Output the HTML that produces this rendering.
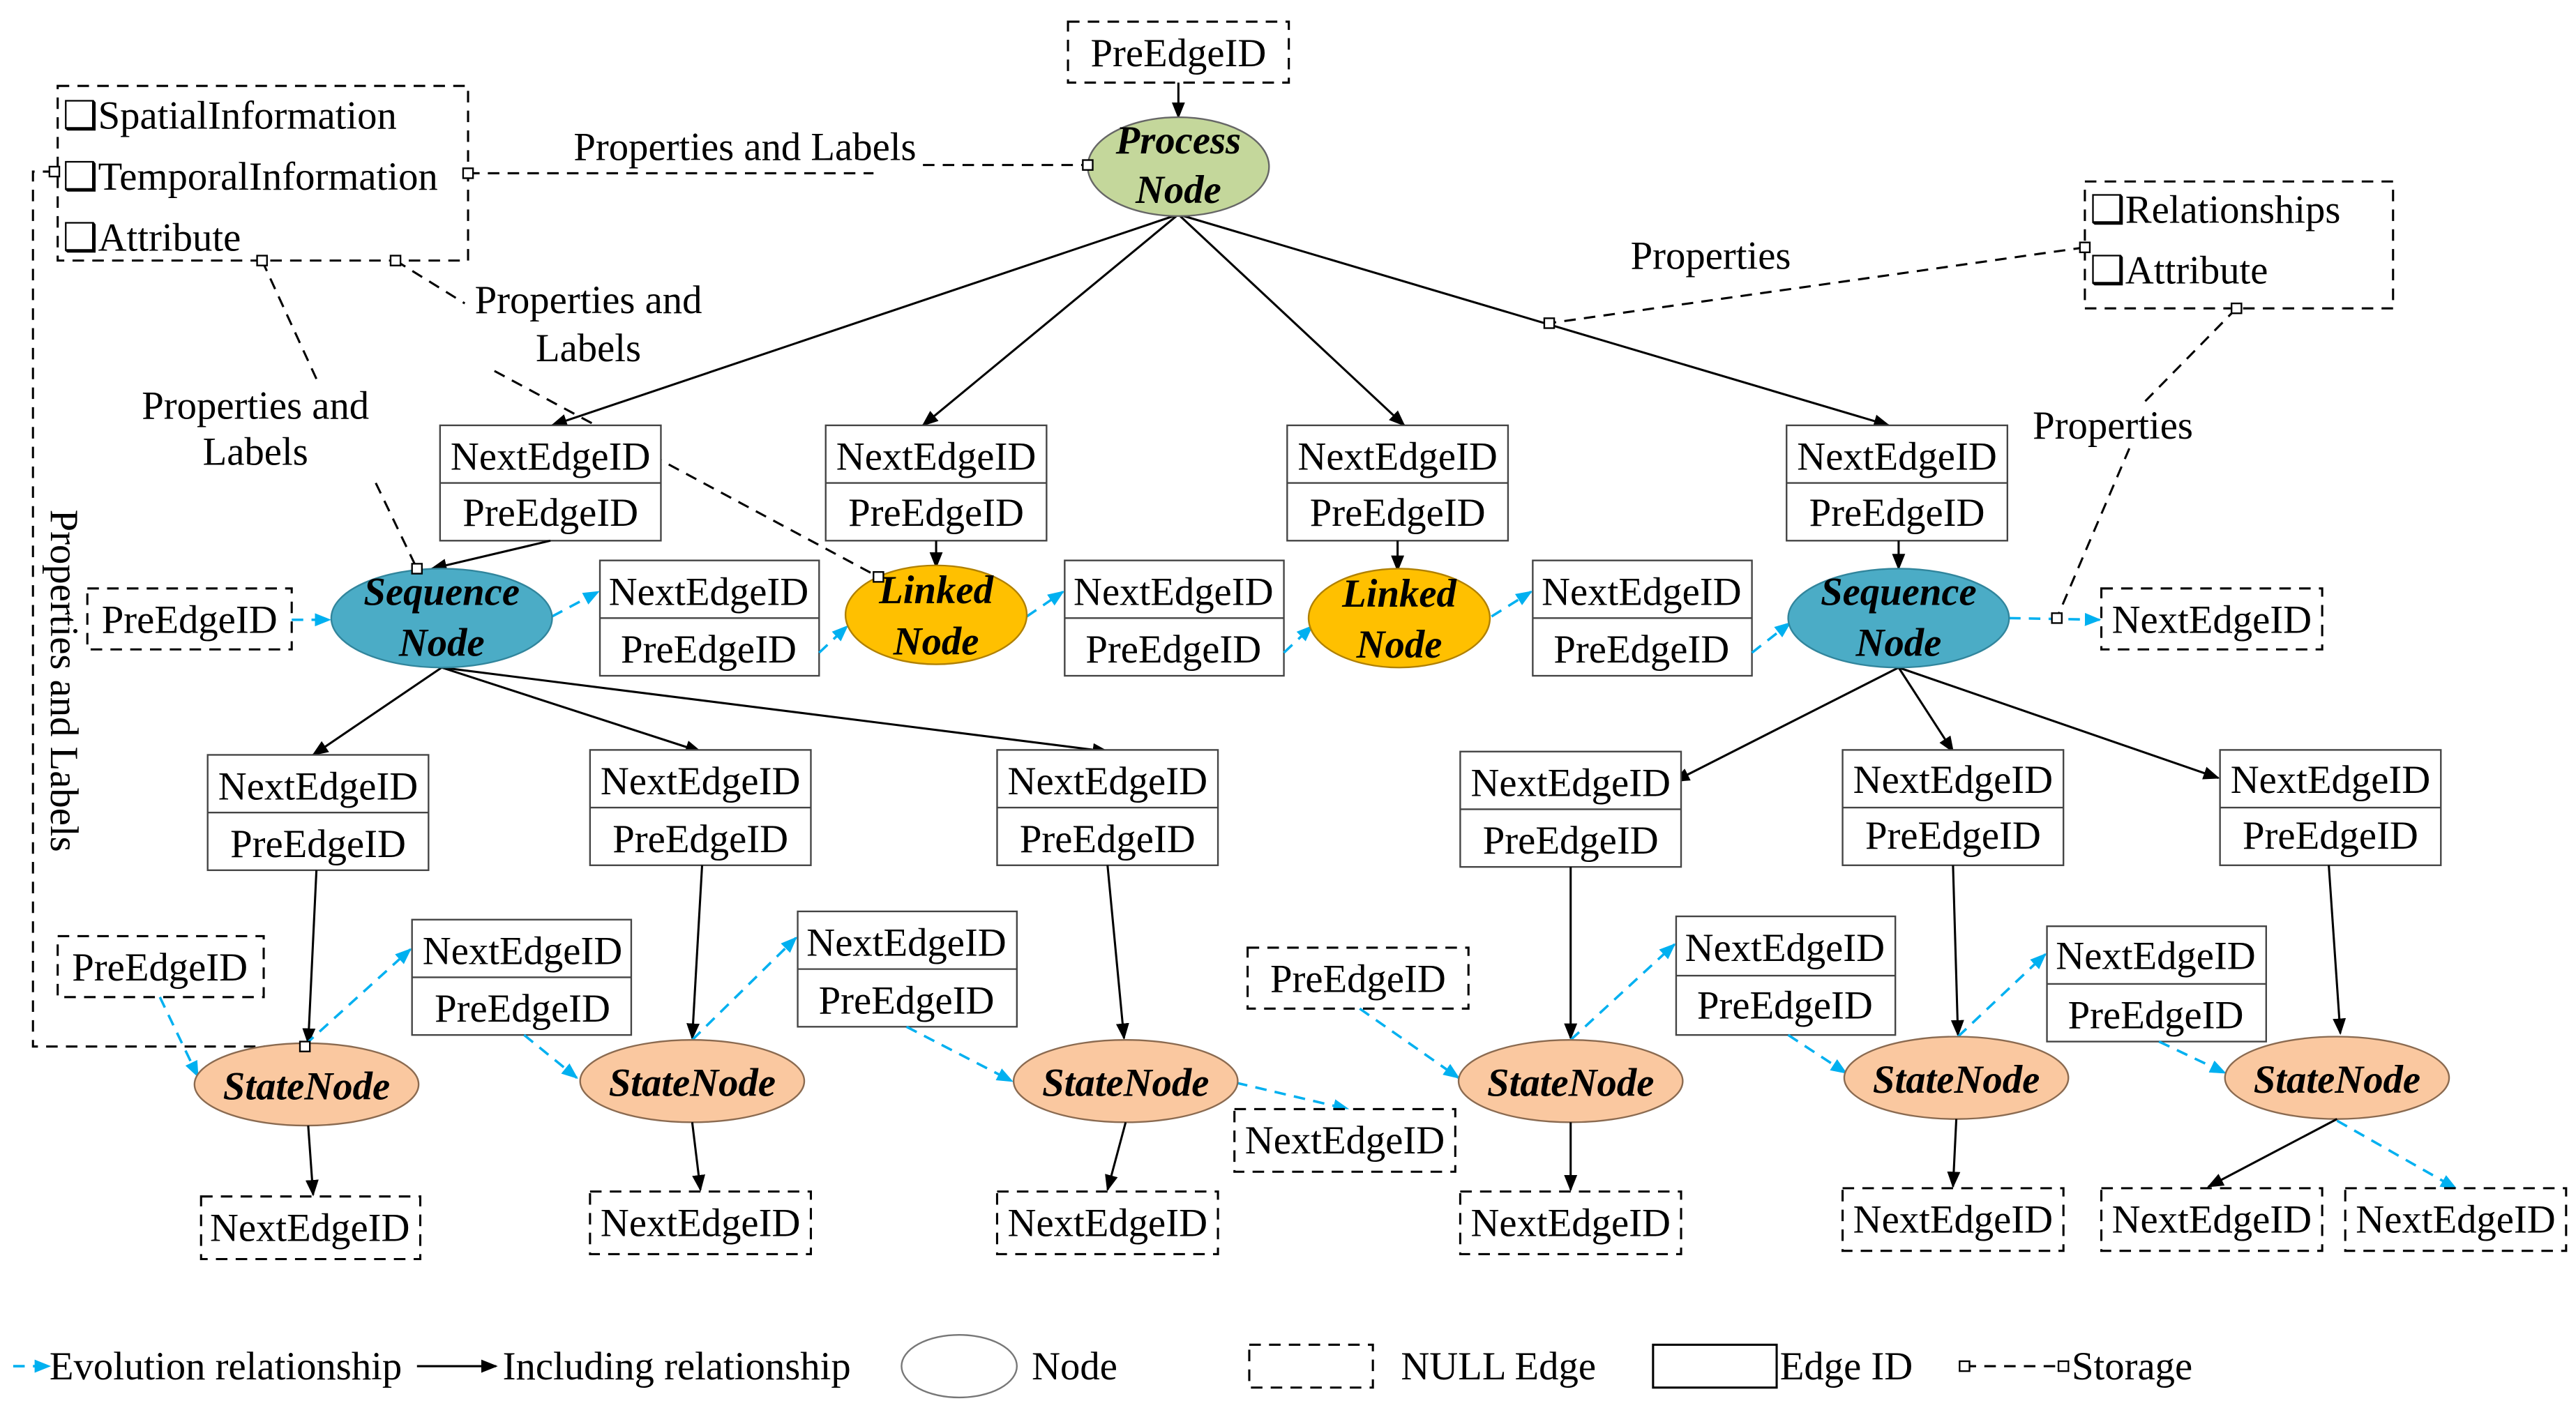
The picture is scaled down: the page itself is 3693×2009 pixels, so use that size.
<!DOCTYPE html>
<html><head><meta charset="utf-8"><style>
html,body{margin:0;padding:0;background:#fff}
svg{display:block}
text{font-family:"Liberation Serif",serif;font-size:24px;fill:#000}
.b{font-weight:bold;font-style:italic}
.s{fill:none;stroke:#000;stroke-width:1.3}
.d{fill:none;stroke:#000;stroke-width:1.3;stroke-dasharray:7,5}
.bl{fill:none;stroke:#00b0f0;stroke-width:1.5;stroke-dasharray:7,5}
.bx{fill:#fff;stroke:#444;stroke-width:1}
.nb{fill:#fff;stroke:#000;stroke-width:1.3;stroke-dasharray:7,5}
.sq{fill:#fff;stroke:#000;stroke-width:1}
</style></head><body>
<svg width="3693" height="2009" viewBox="0 0 1563 850" xmlns="http://www.w3.org/2000/svg">
<defs>
<marker id="a" markerWidth="10" markerHeight="10" refX="9" refY="5" orient="auto" markerUnits="userSpaceOnUse"><path d="M0,1 L10,5 L0,9 Z" fill="#000"/></marker>
<marker id="ab" markerWidth="10" markerHeight="10" refX="9" refY="5" orient="auto" markerUnits="userSpaceOnUse"><path d="M0,1 L10,5 L0,9 Z" fill="#00b0f0"/></marker>
</defs>
<g text-anchor="middle">
<rect class="nb" x="648" y="13" width="134" height="37"/><text x="715" y="40">PreEdgeID</text>
<line class="s" x1="715" y1="50" x2="715" y2="71" marker-end="url(#a)"/>
<line class="s" x1="715" y1="130" x2="335" y2="258" marker-end="url(#a)"/>
<line class="s" x1="715" y1="130" x2="560" y2="258" marker-end="url(#a)"/>
<line class="s" x1="715" y1="130" x2="852" y2="258" marker-end="url(#a)"/>
<line class="s" x1="715" y1="130" x2="1146" y2="258" marker-end="url(#a)"/>
<ellipse cx="715" cy="101" rx="55" ry="30" fill="#c4d79b" stroke="#666"/>
<text class="b" x="715" y="93">Process</text><text class="b" x="715" y="123">Node</text>

<polyline class="d" points="284,105 530,105"/>
<polyline class="d" points="560,100 660,100"/>
<polyline class="d" points="33,104 20,104 20,635 185,635"/>
<line class="d" x1="159" y1="158" x2="193" y2="232"/>
<line class="d" x1="228" y1="293" x2="253" y2="345"/>
<line class="d" x1="240" y1="158" x2="282" y2="184"/>
<line class="d" x1="300" y1="225" x2="533" y2="350"/>
<line class="d" x1="1265" y1="150" x2="940" y2="196"/>
<line class="d" x1="1357" y1="187" x2="1300" y2="245"/>
<line class="d" x1="1292" y1="272" x2="1248" y2="375"/>

<rect class="nb" x="35" y="52" width="249" height="106"/>
<text x="38" y="78" text-anchor="start">❑SpatialInformation</text>
<text x="38" y="115" text-anchor="start">❑TemporalInformation</text>
<text x="38" y="152" text-anchor="start">❑Attribute</text>
<rect class="nb" x="1265" y="110" width="187" height="77"/>
<text x="1268" y="135" text-anchor="start">❑Relationships</text>
<text x="1268" y="172" text-anchor="start">❑Attribute</text>

<text x="452" y="97">Properties and Labels</text>
<text x="155" y="254">Properties and</text><text x="155" y="282">Labels</text>
<text x="357" y="190">Properties and</text><text x="357" y="219">Labels</text>
<text x="1038" y="163">Properties</text>
<text x="1282" y="266">Properties</text>
<text transform="translate(31,413) rotate(90)">Properties and Labels</text>

<rect class="bx" x="267" y="258" width="134" height="70"/><line class="bx" x1="267" y1="293" x2="401" y2="293"/><text x="334" y="285">NextEdgeID</text><text x="334" y="319">PreEdgeID</text>
<rect class="bx" x="501" y="258" width="134" height="70"/><line class="bx" x1="501" y1="293" x2="635" y2="293"/><text x="568" y="285">NextEdgeID</text><text x="568" y="319">PreEdgeID</text>
<rect class="bx" x="781" y="258" width="134" height="70"/><line class="bx" x1="781" y1="293" x2="915" y2="293"/><text x="848" y="285">NextEdgeID</text><text x="848" y="319">PreEdgeID</text>
<rect class="bx" x="1084" y="258" width="134" height="70"/><line class="bx" x1="1084" y1="293" x2="1218" y2="293"/><text x="1151" y="285">NextEdgeID</text><text x="1151" y="319">PreEdgeID</text>
<line class="s" x1="334" y1="328" x2="262" y2="345" marker-end="url(#a)"/>
<line class="s" x1="568" y1="328" x2="568" y2="344" marker-end="url(#a)"/>
<line class="s" x1="848" y1="328" x2="848" y2="346" marker-end="url(#a)"/>
<line class="s" x1="1152" y1="328" x2="1152" y2="345" marker-end="url(#a)"/>

<rect class="nb" x="53" y="357" width="124" height="37"/><text x="115" y="384">PreEdgeID</text>
<line class="bl" x1="177" y1="376" x2="200" y2="376" marker-end="url(#ab)"/>
<rect class="bx" x="364" y="340" width="133" height="70"/><line class="bx" x1="364" y1="375" x2="497" y2="375"/><text x="430" y="367">NextEdgeID</text><text x="430" y="402">PreEdgeID</text>
<rect class="bx" x="646" y="340" width="133" height="70"/><line class="bx" x1="646" y1="375" x2="779" y2="375"/><text x="712" y="367">NextEdgeID</text><text x="712" y="402">PreEdgeID</text>
<rect class="bx" x="930" y="340" width="133" height="70"/><line class="bx" x1="930" y1="375" x2="1063" y2="375"/><text x="996" y="367">NextEdgeID</text><text x="996" y="402">PreEdgeID</text>
<line class="bl" x1="335" y1="374" x2="363" y2="359" marker-end="url(#ab)"/>
<line class="bl" x1="497" y1="396" x2="514" y2="380" marker-end="url(#ab)"/>
<line class="bl" x1="623" y1="374" x2="645" y2="359" marker-end="url(#ab)"/>
<line class="bl" x1="779" y1="396" x2="796" y2="380" marker-end="url(#ab)"/>
<line class="bl" x1="905" y1="374" x2="929" y2="359" marker-end="url(#ab)"/>
<line class="bl" x1="1063" y1="396" x2="1086" y2="378" marker-end="url(#ab)"/>
<line class="bl" x1="1219" y1="375" x2="1274" y2="376" marker-end="url(#ab)"/>
<rect class="nb" x="1275" y="357" width="134" height="37"/><text x="1342" y="384">NextEdgeID</text>

<line class="s" x1="268" y1="405" x2="190" y2="458" marker-end="url(#a)"/>
<line class="s" x1="268" y1="405" x2="425" y2="456" marker-end="url(#a)"/>
<line class="s" x1="268" y1="405" x2="672" y2="456" marker-end="url(#a)"/>
<line class="s" x1="1152" y1="405" x2="1016" y2="474" marker-end="url(#a)"/>
<line class="s" x1="1152" y1="405" x2="1185" y2="456" marker-end="url(#a)"/>
<line class="s" x1="1152" y1="405" x2="1346" y2="472" marker-end="url(#a)"/>

<ellipse cx="268" cy="375" rx="67" ry="30" fill="#4bacc6" stroke="#31859c"/>
<text class="b" x="268" y="367">Sequence</text><text class="b" x="268" y="398">Node</text>
<ellipse cx="568" cy="373" rx="55" ry="30" fill="#ffc000" stroke="#b08000"/>
<text class="b" x="568" y="366">Linked</text><text class="b" x="568" y="397">Node</text>
<ellipse cx="849" cy="375" rx="55" ry="30" fill="#ffc000" stroke="#b08000"/>
<text class="b" x="849" y="368">Linked</text><text class="b" x="849" y="399">Node</text>
<ellipse cx="1152" cy="375" rx="67" ry="30" fill="#4bacc6" stroke="#31859c"/>
<text class="b" x="1152" y="367">Sequence</text><text class="b" x="1152" y="398">Node</text>

<rect class="bx" x="126" y="458" width="134" height="70"/><line class="bx" x1="126" y1="493" x2="260" y2="493"/><text x="193" y="485">NextEdgeID</text><text x="193" y="520">PreEdgeID</text>
<rect class="bx" x="358" y="455" width="134" height="70"/><line class="bx" x1="358" y1="490" x2="492" y2="490"/><text x="425" y="482">NextEdgeID</text><text x="425" y="517">PreEdgeID</text>
<rect class="bx" x="605" y="455" width="134" height="70"/><line class="bx" x1="605" y1="490" x2="739" y2="490"/><text x="672" y="482">NextEdgeID</text><text x="672" y="517">PreEdgeID</text>
<rect class="bx" x="886" y="456" width="134" height="70"/><line class="bx" x1="886" y1="491" x2="1020" y2="491"/><text x="953" y="483">NextEdgeID</text><text x="953" y="518">PreEdgeID</text>
<rect class="bx" x="1118" y="455" width="134" height="70"/><line class="bx" x1="1118" y1="490" x2="1252" y2="490"/><text x="1185" y="481">NextEdgeID</text><text x="1185" y="515">PreEdgeID</text>
<rect class="bx" x="1347" y="455" width="134" height="70"/><line class="bx" x1="1347" y1="490" x2="1481" y2="490"/><text x="1414" y="481">NextEdgeID</text><text x="1414" y="515">PreEdgeID</text>

<line class="s" x1="192" y1="528" x2="187" y2="633" marker-end="url(#a)"/>
<line class="s" x1="426" y1="525" x2="420" y2="630" marker-end="url(#a)"/>
<line class="s" x1="672" y1="525" x2="682" y2="630" marker-end="url(#a)"/>
<line class="s" x1="953" y1="526" x2="953" y2="630" marker-end="url(#a)"/>
<line class="s" x1="1185" y1="525" x2="1188" y2="628" marker-end="url(#a)"/>
<line class="s" x1="1413" y1="525" x2="1420" y2="627" marker-end="url(#a)"/>

<rect class="nb" x="35" y="568" width="125" height="37"/><text x="97" y="595">PreEdgeID</text>
<rect class="bx" x="250" y="558" width="133" height="70"/><line class="bx" x1="250" y1="593" x2="383" y2="593"/><text x="317" y="585">NextEdgeID</text><text x="317" y="620">PreEdgeID</text>
<rect class="bx" x="484" y="553" width="133" height="70"/><line class="bx" x1="484" y1="588" x2="617" y2="588"/><text x="550" y="580">NextEdgeID</text><text x="550" y="615">PreEdgeID</text>
<rect class="nb" x="757" y="575" width="134" height="37"/><text x="824" y="602">PreEdgeID</text>
<rect class="bx" x="1017" y="556" width="133" height="72"/><line class="bx" x1="1017" y1="592" x2="1150" y2="592"/><text x="1083" y="583">NextEdgeID</text><text x="1083" y="618">PreEdgeID</text>
<rect class="bx" x="1242" y="562" width="133" height="70"/><line class="bx" x1="1242" y1="597" x2="1375" y2="597"/><text x="1308" y="588">NextEdgeID</text><text x="1308" y="624">PreEdgeID</text>

<line class="bl" x1="97" y1="605" x2="120" y2="653" marker-end="url(#ab)"/>
<line class="bl" x1="185" y1="634" x2="249" y2="576" marker-end="url(#ab)"/>
<line class="bl" x1="318" y1="628" x2="350" y2="654" marker-end="url(#ab)"/>
<line class="bl" x1="420" y1="631" x2="483" y2="569" marker-end="url(#ab)"/>
<line class="bl" x1="550" y1="623" x2="614" y2="656" marker-end="url(#ab)"/>
<line class="bl" x1="750" y1="657" x2="818" y2="673" marker-end="url(#ab)"/>
<line class="bl" x1="825" y1="612" x2="885" y2="654" marker-end="url(#ab)"/>
<line class="bl" x1="953" y1="631" x2="1016" y2="573" marker-end="url(#ab)"/>
<line class="bl" x1="1085" y1="628" x2="1120" y2="651" marker-end="url(#ab)"/>
<line class="bl" x1="1188" y1="629" x2="1241" y2="579" marker-end="url(#ab)"/>
<line class="bl" x1="1310" y1="632" x2="1350" y2="651" marker-end="url(#ab)"/>
<line class="bl" x1="1418" y1="680" x2="1490" y2="721" marker-end="url(#ab)"/>

<g fill="#fac8a0" stroke="#8a6a50">
<ellipse cx="186" cy="658" rx="68" ry="25"/>
<ellipse cx="420" cy="656" rx="68" ry="25"/>
<ellipse cx="683" cy="656" rx="68" ry="25"/>
<ellipse cx="953" cy="656" rx="68" ry="25"/>
<ellipse cx="1187" cy="654" rx="68" ry="25"/>
<ellipse cx="1418" cy="654" rx="68" ry="25"/>
</g>
<text class="b" x="186" y="667">StateNode</text>
<text class="b" x="420" y="665">StateNode</text>
<text class="b" x="683" y="665">StateNode</text>
<text class="b" x="953" y="665">StateNode</text>
<text class="b" x="1187" y="663">StateNode</text>
<text class="b" x="1418" y="663">StateNode</text>

<line class="s" x1="187" y1="683" x2="190" y2="725" marker-end="url(#a)"/>
<line class="s" x1="420" y1="681" x2="425" y2="722" marker-end="url(#a)"/>
<line class="s" x1="683" y1="681" x2="672" y2="722" marker-end="url(#a)"/>
<line class="s" x1="953" y1="681" x2="953" y2="722" marker-end="url(#a)"/>
<line class="s" x1="1187" y1="679" x2="1185" y2="720" marker-end="url(#a)"/>
<line class="s" x1="1418" y1="679" x2="1340" y2="720" marker-end="url(#a)"/>

<rect class="nb" x="122" y="726" width="133" height="38"/><text x="188" y="753">NextEdgeID</text>
<rect class="nb" x="358" y="723" width="134" height="38"/><text x="425" y="750">NextEdgeID</text>
<rect class="nb" x="605" y="723" width="134" height="38"/><text x="672" y="750">NextEdgeID</text>
<rect class="nb" x="749" y="673" width="134" height="38"/><text x="816" y="700">NextEdgeID</text>
<rect class="nb" x="886" y="723" width="134" height="38"/><text x="953" y="750">NextEdgeID</text>
<rect class="nb" x="1118" y="721" width="134" height="38"/><text x="1185" y="748">NextEdgeID</text>
<rect class="nb" x="1275" y="721" width="134" height="38"/><text x="1342" y="748">NextEdgeID</text>
<rect class="nb" x="1423" y="721" width="134" height="38"/><text x="1490" y="748">NextEdgeID</text>

<rect class="sq" x="30" y="101" width="6" height="6"/>
<rect class="sq" x="281" y="102" width="6" height="6"/>
<rect class="sq" x="657" y="97" width="6" height="6"/>
<rect class="sq" x="156" y="155" width="6" height="6"/>
<rect class="sq" x="237" y="155" width="6" height="6"/>
<rect class="sq" x="250" y="342" width="6" height="6"/>
<rect class="sq" x="530" y="347" width="6" height="6"/>
<rect class="sq" x="182" y="632" width="6" height="6"/>
<rect class="sq" x="1262" y="147" width="6" height="6"/>
<rect class="sq" x="1354" y="184" width="6" height="6"/>
<rect class="sq" x="937" y="193" width="6" height="6"/>
<rect class="sq" x="1245" y="372" width="6" height="6"/>

<line class="bl" x1="8" y1="829" x2="30" y2="829" marker-end="url(#ab)"/>
<text x="30" y="837" text-anchor="start">Evolution relationship</text>
<line class="s" x1="253" y1="829" x2="301" y2="829" marker-end="url(#a)"/>
<text x="305" y="837" text-anchor="start">Including relationship</text>
<ellipse cx="582" cy="829" rx="35" ry="19" fill="#fff" stroke="#777"/>
<text x="626" y="837" text-anchor="start">Node</text>
<rect class="nb" x="758" y="816" width="75" height="26"/>
<text x="850" y="837" text-anchor="start">NULL Edge</text>
<rect x="1003" y="816" width="75" height="26" fill="#fff" stroke="#000" stroke-width="1.3"/>
<text x="1080" y="837" text-anchor="start">Edge ID</text>
<line class="d" x1="1192" y1="829" x2="1252" y2="829"/>
<rect class="sq" x="1189" y="826" width="6" height="6"/>
<rect class="sq" x="1249" y="826" width="6" height="6"/>
<text x="1257" y="837" text-anchor="start">Storage</text>
</g>
</svg>
</body></html>
